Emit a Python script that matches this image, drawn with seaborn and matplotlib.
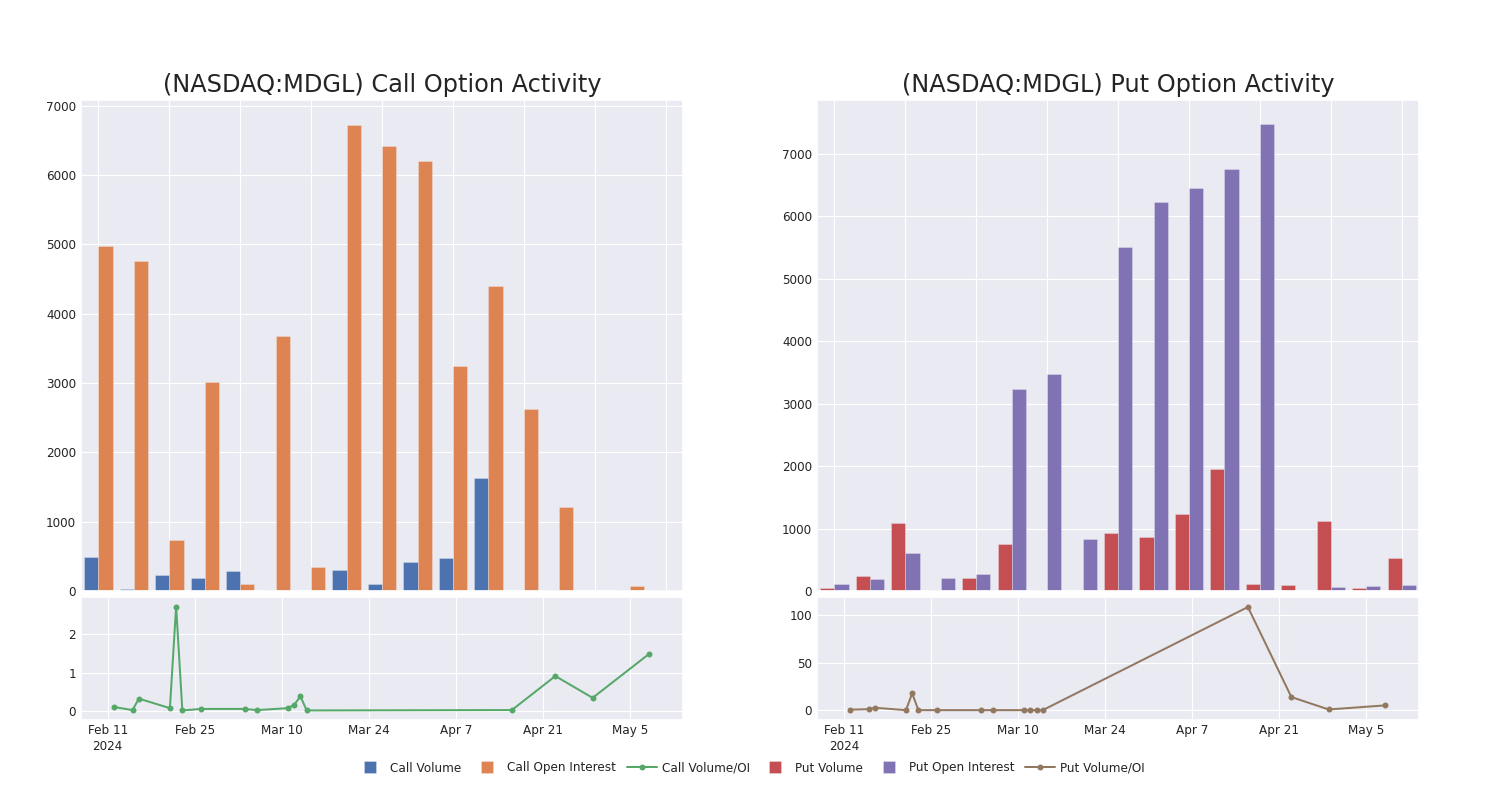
import matplotlib
matplotlib.use("Agg")
import matplotlib.pyplot as plt
import seaborn as sns
import pandas as pd
from matplotlib.lines import Line2D

# ---------------- data ----------------
groups = list(range(17))
call_volume = [490, 35, 230, 190, 290, 20, 5, 305, 95, 415, 470, 1630, 5, 10, 2, 15, 20]
call_oi = [4970, 4760, 740, 3015, 95, 3680, 342, 6725, 6420, 6200, 3250, 4395, 2630, 1215, 2, 65, 10]
put_volume = [48, 240, 1085, 16, 205, 755, 11, 3, 925, 870, 1235, 1950, 105, 95, 1115, 55, 525]
put_oi = [118, 192, 605, 208, 272, 3235, 3475, 840, 5500, 6220, 6445, 6760, 7470, 0, 65, 80, 90]

ratio_dates = ["2024-02-12", "2024-02-15", "2024-02-16", "2024-02-21", "2024-02-22",
               "2024-02-23", "2024-02-26", "2024-03-04", "2024-03-06", "2024-03-11",
               "2024-03-12", "2024-03-13", "2024-03-14", "2024-04-16", "2024-04-23",
               "2024-04-29", "2024-05-08"]
call_ratio = [0.10, 0.02, 0.32, 0.07, 2.73, 0.01, 0.05, 0.05, 0.02, 0.07, 0.16, 0.38,
              0.01, 0.02, 0.91, 0.34, 1.48]
put_ratio = [0.5, 1.0, 2.5, 0.0, 17.7, 0.0, 0.0, 0.0, 0.0, 0.0, 0.0, 0.0, 0.0,
             108.8, 13.8, 0.7, 5.0]

date_ticks = ["2024-02-11", "2024-02-25", "2024-03-10", "2024-03-24",
              "2024-04-07", "2024-04-21", "2024-05-05"]
bar_yticks = [0, 1000, 2000, 3000, 4000, 5000, 6000, 7000]

titles = ["(NASDAQ:MDGL) Call Option Activity", "(NASDAQ:MDGL) Put Option Activity"]
legend_labels = ["Call Volume", "Call Open Interest", "Call Volume/OI",
                 "Put Volume", "Put Open Interest", "Put Volume/OI"]

# ---------------- style ----------------
sns.set_theme(style="darkgrid")
plt.rcParams["font.family"] = ["DejaVu Sans"]
plt.rcParams["grid.linewidth"] = 0.8
TXT = "#242424"
FS = 8.64
BLUE, ORANGE, GREEN, RED, PURPLE, BROWN = sns.color_palette("deep", 6)
EDGE = (0.95, 0.95, 0.97, 0.45)

fig = plt.figure(figsize=(15, 8), dpi=100)

panels = [
    dict(left=0.0538, vol=call_volume, oi=call_oi, ratio=call_ratio,
         colors=[BLUE, ORANGE], lcolor=GREEN, ymax=7080, rylim=(-0.24, 2.98),
         ryticks=[0, 1, 2], title=titles[0], names=legend_labels[:2]),
    dict(left=0.5445, vol=put_volume, oi=put_oi, ratio=put_ratio,
         colors=[RED, PURPLE], lcolor=BROWN, ymax=7860, rylim=(-10.4, 119.4),
         ryticks=[0, 50, 100], title=titles[1], names=legend_labels[3:5]),
]

W = 0.4018
t0 = pd.Timestamp("2024-02-11")
for p in panels:
    axb = fig.add_axes([p["left"], 0.26125, W, 0.61375])
    axl = fig.add_axes([p["left"], 0.10, W, 0.15375])

    n = len(groups)
    df = pd.DataFrame({
        "group": groups * 2,
        "value": p["vol"] + p["oi"],
        "series": [p["names"][0]] * n + [p["names"][1]] * n,
    })
    sns.barplot(data=df, x="group", y="value", hue="series",
                palette=p["colors"], saturation=1, edgecolor=EDGE,
                linewidth=0.5, ax=axb, legend=False, errorbar=None)
    axb.set_xlim(-0.5, n - 0.5)
    axb.set_xticks(list(range(0, n, 2)))
    axb.xaxis.grid(True)
    axb.yaxis.grid(True)
    axb.set_axisbelow(True)
    axb.tick_params(axis="x", labelbottom=False, length=0)
    axb.set_ylim(0, p["ymax"])
    axb.set_yticks(bar_yticks)
    axb.tick_params(axis="y", length=0, pad=3.4, labelsize=FS, labelcolor=TXT)
    axb.set_xlabel("")
    axb.set_ylabel("")
    axb.set_title(p["title"], fontsize=17.3, pad=6, color=TXT)

    sns.lineplot(x=pd.to_datetime(ratio_dates), y=p["ratio"], ax=axl,
                 color=p["lcolor"], marker="o", markersize=4.3,
                 markeredgewidth=0, linewidth=1.44)
    axl.set_xlim(t0 - pd.Timedelta(days=4.35), t0 + pd.Timedelta(days=92.6))
    axl.set_ylim(*p["rylim"])
    axl.set_yticks(p["ryticks"])
    tks = pd.to_datetime(date_ticks)
    axl.set_xticks(tks)
    labels = [f"{d:%b} {d.day}" + ("\n2024" if i == 0 else "") for i, d in enumerate(tks)]
    axl.set_xticklabels(labels)
    for lab in axl.get_xticklabels():
        lab.set_linespacing(1.3)
    axl.tick_params(axis="x", length=0, pad=3, labelsize=FS, labelcolor=TXT)
    axl.tick_params(axis="y", length=0, pad=3.4, labelsize=FS, labelcolor=TXT)
    axl.set_xlabel("")
    axl.set_ylabel("")

# ---------------- legend ----------------
def sq(c):
    return Line2D([0], [0], marker="s", linestyle="none", markersize=8.64,
                  markerfacecolor=c, markeredgecolor=EDGE, markeredgewidth=0.5)

def ln(c):
    return Line2D([0], [0], color=c, linewidth=1.44, marker="o",
                  markersize=4.3, markeredgewidth=0)

handles = [sq(BLUE), sq(ORANGE), ln(GREEN), sq(RED), sq(PURPLE), ln(BROWN)]
leg = fig.legend(handles, legend_labels, loc="center", bbox_to_anchor=(0.5, 0.04),
                 ncol=6, frameon=False, fontsize=FS, handlelength=2.5,
                 handletextpad=0.4, columnspacing=0.9)
for t in leg.get_texts():
    t.set_color(TXT)

fig.savefig("out.png", dpi=100)
